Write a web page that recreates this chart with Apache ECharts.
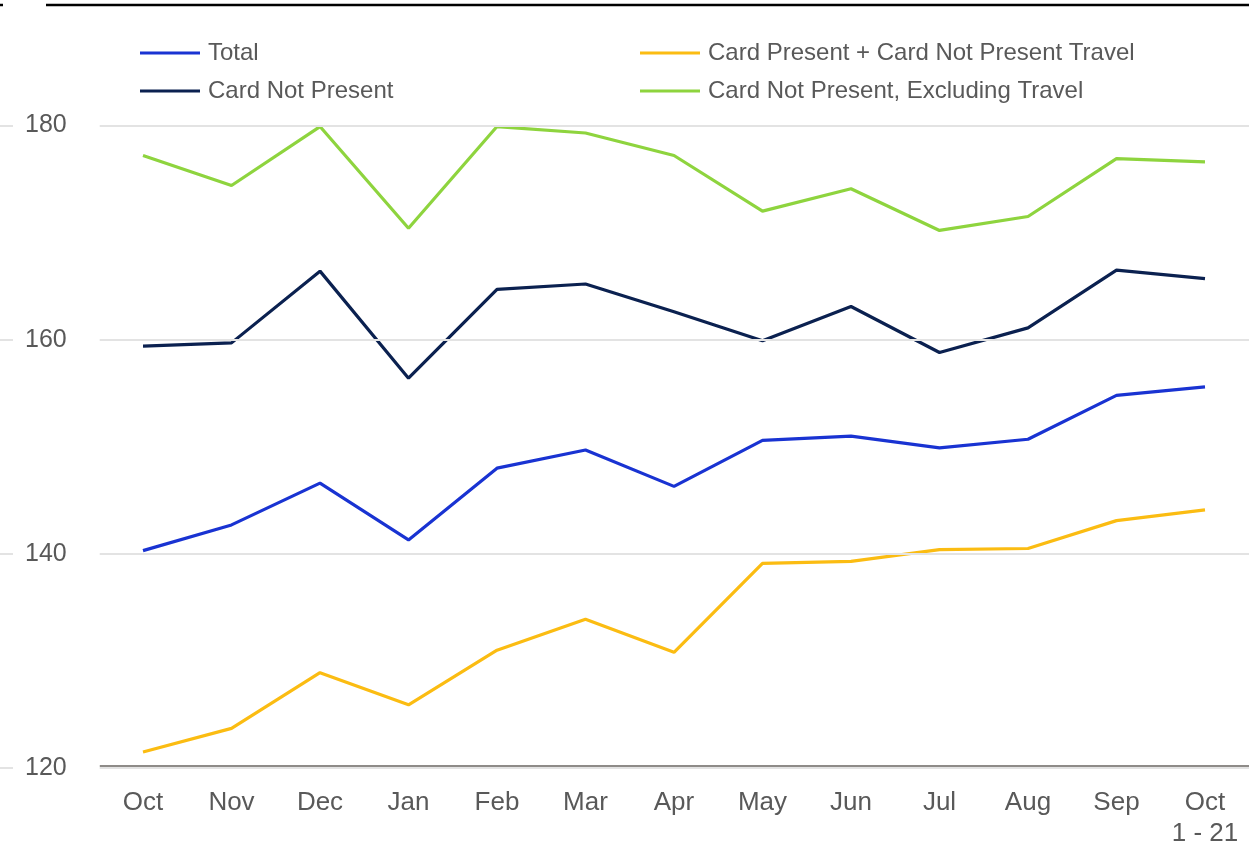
<!DOCTYPE html>
<html>
<head>
<meta charset="utf-8">
<script src="https://cdn.jsdelivr.net/npm/echarts@6/dist/echarts.min.js"></script>
<style>
html,body{margin:0;padding:0;background:#fff;}
#chart{width:1249px;height:847px;}
</style>
</head>
<body>
<div id="chart"></div>
<script>
const months = ['Oct','Nov','Dec','Jan','Feb','Mar','Apr','May','Jun','Jul','Aug','Sep','Oct\n1 - 21'];
const yTicks = [120, 140, 160, 180];
const seriesNames = ['Total','Card Present + Card Not Present Travel','Card Not Present','Card Not Present, Excluding Travel'];
const total = [140.3,142.7,146.6,141.3,148.0,149.7,146.3,150.6,151.0,149.9,150.7,154.8,155.6];
const cpTravel = [121.5,123.7,128.9,125.9,131.0,133.9,130.8,139.1,139.3,140.4,140.5,143.1,144.1];
const cnp = [159.4,159.7,166.4,156.4,164.7,165.2,162.6,159.9,163.1,158.8,161.1,166.5,165.7];
const cnpExTravel = [177.2,174.4,179.9,170.4,179.9,179.3,177.2,172.0,174.1,170.2,171.5,176.9,176.6];
const colors = ['#1933D2','#FBBC12','#0B2150','#8ED43E'];

const FONT = "'Liberation Sans', Arial, Helvetica, sans-serif";
const chart = echarts.init(document.getElementById('chart'), null, {renderer:'canvas'});
const dataArr = [total, cpTravel, cnp, cnpExTravel];

const legendText = {fontSize:24, color:'#595959', fontFamily:FONT, padding:[0,0,0,3]};
const gridTop = 125.5, gridBottom = 79;
const yMin = yTicks[0], yMax = yTicks[yTicks.length-1];
chart.setOption({
  animation:false,
  backgroundColor:'#fff',
  textStyle:{fontFamily:FONT},
  legend:[
    {data:[seriesNames[0], seriesNames[2]], left:135, top:36, orient:'vertical', itemGap:14,
     icon:'rect', itemWidth:60, itemHeight:3, textStyle:legendText, itemStyle:{borderWidth:0}},
    {data:[seriesNames[1], seriesNames[3]], left:635, top:36, orient:'vertical', itemGap:14,
     icon:'rect', itemWidth:60, itemHeight:3, textStyle:legendText, itemStyle:{borderWidth:0}}
  ],
  grid:[
    {left:0, right:0, top:gridTop, bottom:gridBottom, outerBoundsMode:'none', containLabel:false},
    {left:143, right:44, top:gridTop, bottom:gridBottom, outerBoundsMode:'none', containLabel:false},
    {left:100, right:0, top:gridTop, bottom:gridBottom, outerBoundsMode:'none', containLabel:false}
  ],
  xAxis:[
    {gridIndex:0, type:'value', min:0, max:1, show:false},
    {gridIndex:1, type:'category', data:months, boundaryGap:false,
     axisLine:{show:false}, axisTick:{show:false}, splitLine:{show:false},
     axisLabel:{margin:19, fontSize:26, color:'#595959', fontFamily:FONT, lineHeight:31, interval:0}},
    {gridIndex:2, type:'value', min:0, max:1, offset:-2, axisLine:{show:true, onZero:false, lineStyle:{color:'#8e8b88', width:2}},
     axisTick:{show:false}, axisLabel:{show:false}, splitLine:{show:false}}
  ],
  yAxis:[
    {gridIndex:0, type:'value', min:yMin, max:yMax, interval:20, z:5,
     axisLine:{show:false}, axisTick:{show:false},
     splitLine:{show:true, lineStyle:{color:'#e3e3e3', width:2}},
     axisLabel:{inside:true, margin:13, fontSize:25, color:'#595959', fontFamily:FONT,
       backgroundColor:'#fff', padding:[6,33,0,12], verticalAlign:'middle'}},
    {gridIndex:1, type:'value', min:yMin, max:yMax, interval:20, show:false},
    {gridIndex:2, type:'value', min:yMin, max:yMax, interval:20, show:false}
  ],
  graphic:[
    {type:'line', shape:{x1:46,y1:5,x2:1249,y2:5}, style:{stroke:'#000', lineWidth:2.5}},
    {type:'line', shape:{x1:0,y1:5,x2:3,y2:5}, style:{stroke:'#000', lineWidth:2.5}}
  ],
  series: seriesNames.map((n,i)=>({
    name:n, type:'line', xAxisIndex:1, yAxisIndex:1, data:dataArr[i],
    symbol:'none', showSymbol:false, lineStyle:{color:colors[i], width:3.2}, itemStyle:{color:colors[i]}, z:3
  }))
});
</script>
</body>
</html>
